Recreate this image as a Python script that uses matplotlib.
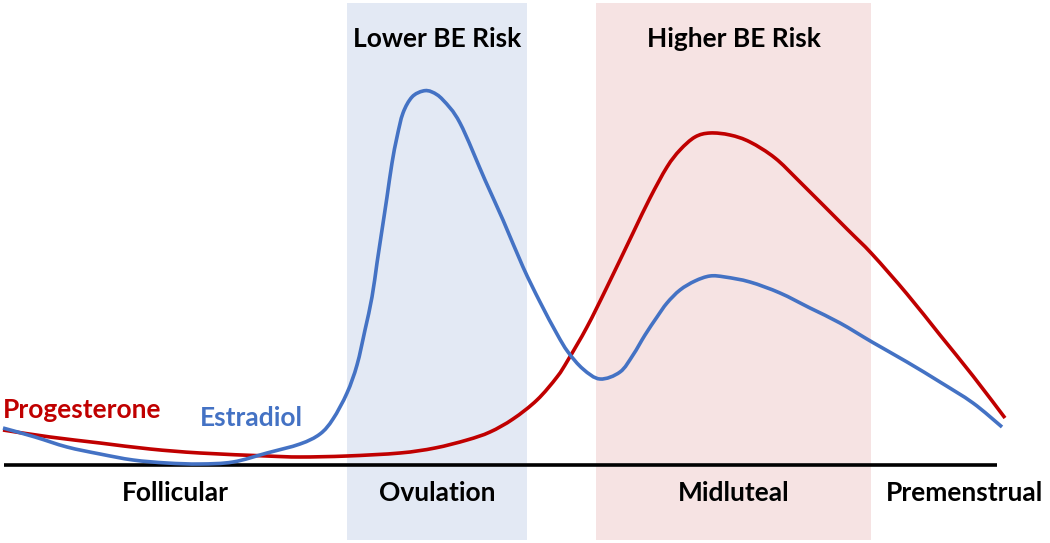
import matplotlib.pyplot as plt
from matplotlib.path import Path
from matplotlib.patches import PathPatch
import numpy as np

# position along the cycle (arbitrary units) and hormone level above the baseline
estradiol_x = [3, 35, 67, 100, 133, 167, 200, 233, 267, 300,
               320, 333, 347, 357, 365, 372, 377, 382, 387, 392,
               397, 403, 412, 423, 432, 443, 460, 485, 503, 523,
               540, 557, 568, 583, 600, 620, 633, 645, 657, 667,
               680, 695, 710, 725, 750, 780, 810, 840, 872, 907,
               940, 973, 1002]
estradiol_y = [37, 28, 18, 11, 5, 2, 1, 3, 12, 21,
               31, 46, 72, 100, 135, 168, 202, 235, 268, 302,
               328, 352, 368, 374, 373, 365, 342, 285, 245, 198,
               163, 131, 113, 96, 86, 93, 110, 130, 148, 162,
               175, 184, 189, 188, 183, 172, 157, 142, 123, 103,
               83, 62, 38]

progesterone_x = [3, 50, 100, 150, 200, 267, 300, 347, 400, 435,
                  467, 490, 513, 537, 557, 568, 587, 607, 633, 650,
                  667, 680, 695, 710, 730, 750, 775, 800, 847, 872,
                  907, 940, 973, 1005]
progesterone_y = [35, 28, 22, 16, 12, 9, 8, 9, 12, 17,
                  25, 33, 46, 65, 88, 105, 138, 178, 232, 267,
                  298, 315, 328, 332, 330, 323, 307, 283, 236, 211,
                  171, 130, 89, 47]

risk_bands = [(347, 527, "Lower BE Risk"), (596, 871, "Higher BE Risk")]
band_colors = ["#E3E9F4", "#F6E3E3"]

phases = ["Follicular", "Ovulation", "Midluteal", "Premenstrual"]
phase_x = [175, 437, 734, 965]

BLUE = "#4472C4"
RED = "#C00000"


def smooth_path(xs, ys):
    """Cubic bezier path passing through every given point (Catmull-Rom style)."""
    p = np.column_stack([xs, ys]).astype(float)
    ext = np.vstack([p[0], p, p[-1]])
    verts = [p[0]]
    codes = [Path.MOVETO]
    for i in range(1, len(ext) - 2):
        c1 = ext[i] + (ext[i + 1] - ext[i - 1]) / 6
        c2 = ext[i + 1] - (ext[i + 2] - ext[i]) / 6
        verts += [c1, c2, ext[i + 1]]
        codes += [Path.CURVE4] * 3
    return Path(verts, codes)


def main():
    plt.rcParams['font.family'] = ['Lato', 'DejaVu Sans']
    fig = plt.figure(figsize=(10.5, 5.43), dpi=100)
    ax = fig.add_axes([0, 0, 1, 1])
    ax.set_xlim(0, 1050)
    ax.set_ylim(-78, 465)
    ax.axis('off')

    for (x0, x1, label), c in zip(risk_bands, band_colors):
        ax.axvspan(x0, x1, ymin=0.006, ymax=0.994, color=c, lw=0, zorder=0)
        ax.text((x0 + x1) / 2, 426, label, ha='center', va='center',
                fontsize=19, fontweight='bold', color='black')

    ax.hlines(0, 4, 997, color='black', lw=2.6, zorder=1)

    ax.add_patch(PathPatch(smooth_path(progesterone_x, progesterone_y), fill=False,
                           edgecolor=RED, lw=2.6, capstyle='butt', zorder=3))
    ax.add_patch(PathPatch(smooth_path(estradiol_x, estradiol_y), fill=False,
                           edgecolor=BLUE, lw=2.6, capstyle='butt', zorder=4))

    ax.text(3, 55, "Progesterone", ha='left', va='center', fontsize=19,
            fontweight='bold', color=RED)
    ax.text(200, 47, "Estradiol", ha='left', va='center', fontsize=19,
            fontweight='bold', color=BLUE)

    for name, x in zip(phases, phase_x):
        ax.text(x, -28, name, ha='center', va='center', fontsize=19,
                fontweight='bold', color='black')

    fig.savefig("out.png", dpi=100)


if __name__ == "__main__":
    main()
